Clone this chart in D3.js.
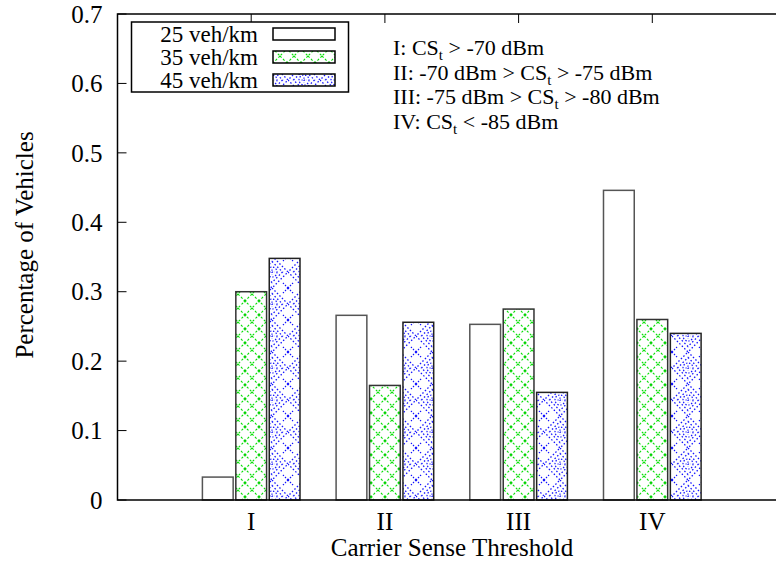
<!DOCTYPE html>
<html><head><meta charset="utf-8">
<script src="https://cdn.jsdelivr.net/npm/d3@7"></script>
<style>body{margin:0;background:#fff}</style>
</head><body><svg id="c" width="776" height="576" font-family="Liberation Serif, Times New Roman, serif"></svg>
<script>
const categories = ["I","II","III","IV"];
const seriesNames = ["25 veh/km","35 veh/km","45 veh/km"];
const v25 = [0.033, 0.266, 0.253, 0.446];
const v35 = [0.300, 0.165, 0.275, 0.260];
const v45 = [0.348, 0.256, 0.155, 0.240];
const yTicks = [0,0.1,0.2,0.3,0.4,0.5,0.6,0.7];
const yTickLabels = ["0","0.1","0.2","0.3","0.4","0.5","0.6","0.7"];
const notes = [
  ["I: CS","t"," > -70 dBm"],
  ["II: -70 dBm > CS","t"," > -75 dBm"],
  ["III: -75 dBm > CS","t"," > -80 dBm"],
  ["IV: CS","t"," < -85 dBm"]
];
const series = [v25, v35, v45];

const svg = d3.select("#c");
const FF = "Liberation Serif, Times New Roman, serif";
const FS = 25;
const L=117.5, T=14, B=500;
const x = d3.scaleLinear().domain([0,5]).range([L, 786]);
const y = d3.scaleLinear().domain([0,0.7]).range([B, T]);

// patterns
const defs = svg.append("defs");
const pg = defs.append("pattern").attr("id","pg").attr("patternUnits","userSpaceOnUse")
  .attr("width",14).attr("height",14);
pg.append("rect").attr("width",14).attr("height",14).attr("fill","#fff");
pg.append("path").attr("d","M0,0L14,14M14,0L0,14").attr("stroke","#00e000").attr("stroke-width",1.1)
  .attr("stroke-dasharray","2.2,2").attr("fill","none");
pg.append("path").attr("d","M7,5.5L7,8.5M5.5,7L8.5,7").attr("stroke","#00d000").attr("stroke-width",1.2);

const pb = defs.append("pattern").attr("id","pb").attr("patternUnits","userSpaceOnUse")
  .attr("width",32).attr("height",32).attr("x",0).attr("y",0);
pb.append("rect").attr("width",32).attr("height",32).attr("fill","#fff");
[16,10.5].forEach((r,i)=>{
  pb.append("path").attr("d",`M16,${16-r}L${16+r},16L16,${16+r}L${16-r},16Z`)
    .attr("stroke","#1515ff").attr("stroke-width",1.3).attr("fill","none")
    .attr("stroke-dasharray", i==0? "1.5,2":"1.5,2.2");
});
pb.append("circle").attr("cx",16).attr("cy",16).attr("r",5).attr("fill","none").attr("stroke","#1515ff").attr("stroke-width",1.2).attr("stroke-dasharray","1.4,1.6");
pb.append("path").attr("d","M16,13.5V18.5M13.5,16H18.5").attr("stroke","#1515ff").attr("stroke-width",1.2).attr("stroke-dasharray","1.2,1.2");
pb.append("path").attr("d","M0,0L6,6M32,0L26,6M0,32L6,26M32,32L26,26").attr("stroke","#1515ff").attr("stroke-width",1.3).attr("stroke-dasharray","1.3,1.6").attr("fill","none");

const fills = ["#fff","url(#pg)","url(#pb)"];
const strokes = ["#555","#333","#222"];

// ticks (behind bars)
const g = svg.append("g");
categories.forEach((c,i)=>{
  g.append("line").attr("x1",x(i+1)).attr("x2",x(i+1)).attr("y1",B).attr("y2",B-9).attr("stroke","#000");
  g.append("line").attr("x1",x(i+1)).attr("x2",x(i+1)).attr("y1",T).attr("y2",T+9).attr("stroke","#000");
});
yTicks.forEach(t=>{
  g.append("line").attr("x1",L).attr("x2",L+9).attr("y1",y(t)).attr("y2",y(t)).attr("stroke","#000");
});

// bars
const bw = x(0.23)-x(0);
series.forEach((vals,j)=>{
  svg.append("g").selectAll("rect").data(vals).join("rect")
    .attr("x",(d,i)=>x(i+1+(j-1)*0.25)-bw/2)
    .attr("y",d=>y(d)).attr("width",bw).attr("height",d=>y(0)-y(d))
    .attr("fill",fills[j]).attr("stroke",strokes[j]).attr("stroke-width",1.5);
});

// axes frame
svg.append("path").attr("d",`M776,${T}H${L}V${B}H776`).attr("fill","none").attr("stroke","#000").attr("stroke-width",1.5);

// y tick labels
yTicks.forEach((t,i)=>{
  svg.append("text").attr("x",L-15).attr("y",y(t)).attr("dy","0.35em").attr("text-anchor","end")
    .attr("font-family",FF).attr("font-size",FS).text(yTickLabels[i]);
});
// x tick labels
categories.forEach((c,i)=>{
  svg.append("text").attr("x",x(i+1)).attr("y",530).attr("text-anchor","middle").attr("font-family",FF).attr("font-size",FS).text(c);
});
svg.append("text").attr("x",452).attr("y",556).attr("text-anchor","middle").attr("font-family",FF).attr("font-size",FS).text("Carrier Sense Threshold");
svg.append("text").attr("transform","translate(33,245) rotate(-90)").attr("text-anchor","middle").attr("font-family",FF).attr("font-size",FS).text("Percentage of Vehicles");

// legend
svg.append("rect").attr("x",131.5).attr("y",22).attr("width",217).attr("height",70).attr("fill","#fff").attr("stroke","#000").attr("stroke-width",1.5);
seriesNames.forEach((n,j)=>{
  const cy = 34 + j*23;
  svg.append("text").attr("x",258).attr("y",cy).attr("dy","0.35em").attr("text-anchor","end").attr("font-family",FF).attr("font-size",23).text(n);
  svg.append("rect").attr("x",273).attr("y",cy-6).attr("width",62).attr("height",12)
    .attr("fill",fills[j]).attr("stroke","#000").attr("stroke-width",1.5);
});

// notes
notes.forEach((n,i)=>{
  const t = svg.append("text").attr("x",393).attr("y",55+i*24.5).attr("font-family",FF).attr("font-size",22);
  t.append("tspan").text(n[0]);
  t.append("tspan").attr("font-size",15).attr("dy",5).text(n[1]);
  t.append("tspan").attr("dy",-5).text(n[2]);
});
</script></body></html>
